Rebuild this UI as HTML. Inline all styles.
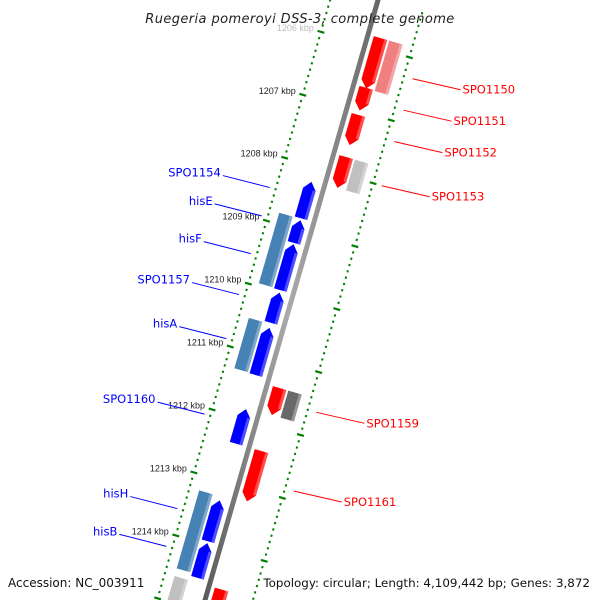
<!DOCTYPE html>
<html><head><meta charset="utf-8"><style>
html,body{margin:0;background:#fff;width:600px;height:600px;overflow:hidden}
svg{display:block;font-family:"Liberation Sans","DejaVu Sans",sans-serif;overflow:hidden}
</style></head><body>
<svg id="c" width="600" height="600" viewBox="0 0 600 600">
<defs>
<linearGradient id="bb" x1="0" x2="1" y1="0" y2="0"><stop offset="0" stop-color="#555"/><stop offset="0.5" stop-color="#aaa"/><stop offset="1" stop-color="#666"/></linearGradient>
</defs>
<g id="tracks"></g>
<g id="genes"></g>
<g id="labels"></g>
<text x="300" y="23" text-anchor="middle" font-size="13" font-style="italic" fill="#222" style="font-family:'DejaVu Sans',sans-serif;letter-spacing:0.4px">Ruegeria pomeroyi DSS-3, complete genome</text>
<text x="8" y="587" font-size="12" fill="#111" style="font-family:'DejaVu Sans',sans-serif">Accession: NC_003911</text>
<text x="590" y="587" text-anchor="end" font-size="11.9" fill="#111" style="font-family:'DejaVu Sans',sans-serif">Topology: circular; Length: 4,109,442 bp; Genes: 3,872</text>
</svg>
<script>
const kbpTicks=[1206,1207,1208,1209,1210,1211,1212,1213,1214];
const geneNames=["SPO1150","SPO1150g","SPO1151","SPO1152","SPO1153","SPO1153g","SPO1159","SPO1159g","SPO1161","redEnd",
"SPO1154","hisE","hisF","hisEFgene","SPO1157","hisA","hisAgene","SPO1160","hisH","hisB","hisHBgene","grayEnd"];
const geneStart=[1205.84,1205.84,1206.63,1207.06,1207.73,1207.73,1211.4,1211.4,1212.4,1214.6,
1208.24,1208.85,1209.23,1208.83,1210.0,1210.56,1210.5,1211.85,1213.3,1213.98,1213.24,1214.6];
const geneEnd=[1206.64,1206.64,1206.99,1207.54,1208.22,1208.22,1211.83,1211.83,1213.2,1215.2,
1208.82,1209.21,1209.96,1209.95,1210.48,1211.31,1211.3,1212.4,1213.95,1214.53,1214.48,1215.2];
const geneTrack=["r1","r2","r1","r1","r1","r2","r1","r2","r1","r1",
"b1","b1","b1","b2","b1","b1","b2","b1","b1","b1","b2","b2"];
const geneColor=["#ff0000","#f08080","#ff0000","#ff0000","#ff0000","#c0c0c0","#ff0000","#696969","#ff0000","#ff0000",
"#0000ff","#0000ff","#0000ff","#4682b4","#0000ff","#0000ff","#4682b4","#0000ff","#0000ff","#0000ff","#4682b4","#c0c0c0"];
const labelText=["SPO1150","SPO1151","SPO1152","SPO1153","SPO1159","SPO1161","SPO1154","hisE","hisF","SPO1157","hisA","SPO1160","hisH","hisB"];
const labelKbp=[1206.3,1206.8,1207.3,1208.0,1211.6,1212.85,1208.5,1208.95,1209.55,1210.2,1210.9,1212.1,1213.6,1214.2];
const labelStrand=["r","r","r","r","r","r","b","b","b","b","b","b","b","b"];

const NS="http://www.w3.org/2000/svg";
const C=0.961,S=0.277;
function sOf(k){return 46.4+(k-1206)*65.5;}
function P(x,k){const s=sOf(k);return [378+x*C-s*S, x*S+s*C];}
function el(tag,attrs,parent){const e=document.createElementNS(NS,tag);for(const a in attrs)e.setAttribute(a,attrs[a]);parent.appendChild(e);return e;}
const tracks=document.getElementById('tracks'),genes=document.getElementById('genes'),labels=document.getElementById('labels');

[-46,46].forEach(function(tx){
  for(let k=1205.3;k<=1215.4;k+=0.1){
    const kr=Math.round(k*10)/10;
    const major=Math.abs(kr-Math.round(kr))<0.01;
    const a=P(tx-(major?3.5:1),kr),b=P(tx+(major?3.5:1),kr);
    const t=el('line',{x1:a[0],y1:a[1],x2:b[0],y2:b[1],stroke:'#008000','stroke-width':2.2},tracks);
    
    
  }
});
{const a=P(0,1205.2),b=P(0,1215.2);
const bl=el('line',{x1:a[0],y1:a[1],x2:b[0],y2:b[1],stroke:'url(#bb)','stroke-width':5},tracks);

}
kbpTicks.forEach(function(k,i){
  const p=P(-46,k);
  const t=el('text',{x:p[0]-7,y:p[1]-1,'text-anchor':'end','font-size':9,fill:i===0?'#bbb':'#222'},tracks);
  t.textContent=k+' kbp';
  
  
});
const trackX={r1:[6,20],r2:[22,36],b1:[-20,-7],b2:[-36,-22]};
geneNames.forEach(function(n,i){
  const tr=trackX[geneTrack[i]],a=tr[0],b=tr[1],k0=geneStart[i],k1=geneEnd[i];
  const arrow=(geneTrack[i]==='r1'||geneTrack[i]==='b1');
  const h=0.12;let pts;
  if(!arrow){pts=[P(a,k0),P(b,k0),P(b,k1),P(a,k1)];}
  else if(geneTrack[i]==='b1'){pts=[P(a,k1),P(a,k0+h),P((a+b)/2,k0),P(b,k0+h),P(b,k1)];}
  else {pts=[P(a,k0),P(b,k0),P(b,k1-h),P((a+b)/2,k1),P(a,k1-h)];}
  const g=el('polygon',{points:pts.map(p=>p.join(',')).join(' '),fill:geneColor[i]},genes);
  
  
  const t0=(arrow&&geneTrack[i]==='b1')?h:0,t1=(arrow&&geneTrack[i]==='r1')?h:0;
  const hp=[P(b-3,k0+t0),P(b,k0+t0),P(b,k1-t1),P(b-3,k1-t1)];
  const st=el('polygon',{points:hp.map(p=>p.join(',')).join(' '),fill:'#fff',opacity:0.3},genes);
  
  
});
labelText.forEach(function(t,i){
  let p,q,tx;
  if(labelStrand[i]==='r'){p=P(55,labelKbp[i]);q=[p[0]+48,p[1]+11];tx=el('text',{x:q[0]+2,y:q[1]+4,'font-size':11.5,fill:'#ff0000',style:"font-family:'DejaVu Sans',sans-serif"},labels);}
  else{p=P(-52,labelKbp[i]);q=[p[0]-47,p[1]-12];tx=el('text',{x:q[0]-2,y:q[1]+1,'text-anchor':'end','font-size':11.5,fill:'#0000ff',style:"font-family:'DejaVu Sans',sans-serif"},labels);}
  const ln=el('line',{x1:p[0],y1:p[1],x2:q[0],y2:q[1],stroke:labelStrand[i]==='r'?'#ff0000':'#0000ff','stroke-width':1},labels);
  
  
  tx.textContent=t;
  
  
});
</script>
</body></html>
